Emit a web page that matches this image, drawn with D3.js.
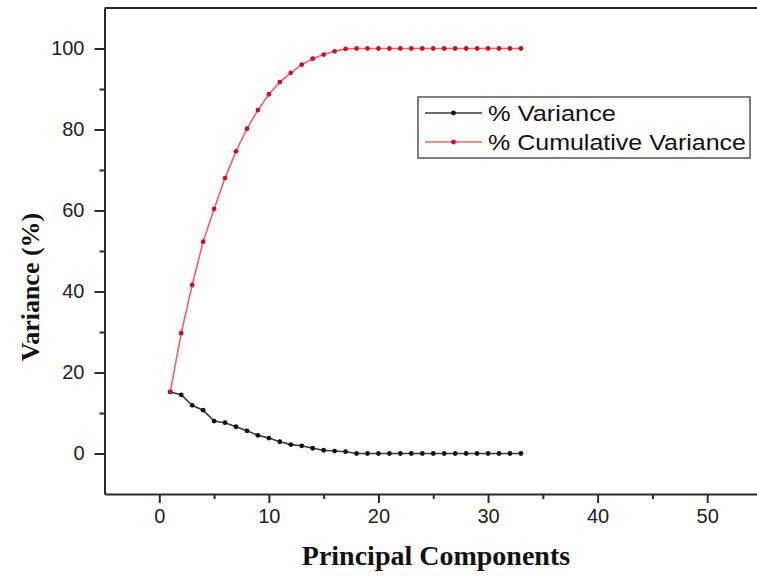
<!DOCTYPE html>
<html>
<head>
<meta charset="utf-8">
<script src="https://cdn.jsdelivr.net/npm/d3@7"></script>
<style>
  html, body { margin: 0; padding: 0; background: #fff; overflow: hidden; }
  svg { display: block; }
</style>
</head>
<body>
<svg id="chart" width="757" height="576"></svg>
<script>
// Scree plot: % variance and % cumulative variance per principal component
const components = d3.range(1, 34);
const variance = [15.2, 14.5, 11.9, 10.7, 8.0, 7.6, 6.6, 5.6, 4.5, 3.8, 2.9, 2.2, 1.9, 1.3, 0.8, 0.6, 0.45,
    0, 0, 0, 0, 0, 0, 0, 0, 0, 0, 0, 0, 0, 0, 0, 0];
const cumulative = [15.2, 29.7, 41.6, 52.3, 60.4, 68.0, 74.6, 80.2, 84.8, 88.7, 91.7, 94.0, 96.0, 97.5, 98.5, 99.3, 99.9,
    100, 100, 100, 100, 100, 100, 100, 100, 100, 100, 100, 100, 100, 100, 100, 100];
const xMajorTicks = [0, 10, 20, 30, 40, 50];
const xMinorTicks = [5, 15, 25, 35, 45];
const yMajorTicks = [0, 20, 40, 60, 80, 100];
const yMinorTicks = [10, 30, 50, 70, 90];
const seriesNames = ['% Variance', '% Cumulative Variance'];

const svg = d3.select('#chart');
const axisColor = '#2b2b2b';

const x = d3.scaleLinear().domain([-5, 55]).range([104.5, 762]);
const y = d3.scaleLinear().domain([-10, 110]).range([494, 8]);

// Top frame line
svg.append('line').attr('x1', x(-5)).attr('x2', x(55)).attr('y1', y(110)).attr('y2', y(110))
    .attr('stroke', axisColor).attr('stroke-width', 2);

// X axis
const gx = svg.append('g').attr('transform', `translate(0,${y(-10)})`);
gx.call(d3.axisBottom(x).tickValues(xMajorTicks).tickSize(9).tickPadding(6).tickSizeOuter(0));
gx.append('g').call(d3.axisBottom(x).tickValues(xMinorTicks).tickSize(5).tickFormat('').tickSizeOuter(0))
    .select('.domain').remove();
gx.selectAll('.domain').attr('stroke', axisColor).attr('stroke-width', 2);
gx.selectAll('.tick line').attr('stroke', axisColor).attr('stroke-width', 2);
gx.selectAll('.tick text').attr('font-family', 'Liberation Sans, Arial, sans-serif')
    .attr('font-size', 20).attr('fill', '#222');

// Y axis
const gy = svg.append('g').attr('transform', `translate(${x(-5)},0)`);
gy.call(d3.axisLeft(y).tickValues(yMajorTicks).tickSize(10).tickPadding(10).tickSizeOuter(0));
gy.append('g').call(d3.axisLeft(y).tickValues(yMinorTicks).tickSize(5).tickFormat('').tickSizeOuter(0))
    .select('.domain').remove();
gy.selectAll('.domain').attr('stroke', axisColor).attr('stroke-width', 2);
gy.selectAll('.tick line').attr('stroke', axisColor).attr('stroke-width', 2);
gy.selectAll('.tick text').attr('font-family', 'Liberation Sans, Arial, sans-serif')
    .attr('font-size', 20).attr('fill', '#222');

// Axis titles
svg.append('text')
    .attr('x', 436).attr('y', 565)
    .attr('text-anchor', 'middle')
    .attr('font-family', 'Liberation Serif, Times New Roman, serif')
    .attr('font-weight', 700).attr('font-size', 28).attr('fill', '#111')
    .text('Principal Components');

svg.append('text')
    .attr('transform', 'translate(39,287) rotate(-90)')
    .attr('text-anchor', 'middle')
    .attr('font-family', 'Liberation Serif, Times New Roman, serif')
    .attr('font-weight', 700).attr('font-size', 26).attr('fill', '#111')
    .text('Variance (%)');

// Series
const series = [
    { name: seriesNames[0], values: variance, line: '#3a3a3a', dot: '#111', width: 128 },
    { name: seriesNames[1], values: cumulative, line: '#f0606a', dot: '#c8102e', width: 258 },
];

const line = d3.line().x((d, i) => x(components[i])).y(d => y(d));

for (const s of series) {
    svg.append('path')
        .datum(s.values)
        .attr('d', line)
        .attr('fill', 'none')
        .attr('stroke', s.line)
        .attr('stroke-width', 1.6);

    svg.append('g').selectAll('circle')
        .data(s.values)
        .join('circle')
        .attr('cx', (d, i) => x(components[i]))
        .attr('cy', d => y(d))
        .attr('r', 2.4)
        .attr('fill', s.dot);
}

// Legend (text is slightly stretched in the original)
const lg = svg.append('g').attr('transform', 'translate(418,97)');
lg.append('rect').attr('width', 332).attr('height', 61)
    .attr('fill', '#fff').attr('stroke', '#555').attr('stroke-width', 1.5);
series.forEach((s, i) => {
    const ly = 16 + i * 29;
    lg.append('line').attr('x1', 7).attr('x2', 64).attr('y1', ly).attr('y2', ly)
        .attr('stroke', s.line).attr('stroke-width', 1.6);
    lg.append('circle').attr('cx', 35.5).attr('cy', ly).attr('r', 2.4).attr('fill', s.dot);
    lg.append('text')
        .attr('x', 70).attr('y', ly)
        .attr('dy', '0.36em')
        .attr('font-family', 'Liberation Sans, Arial, sans-serif')
        .attr('font-size', 22).attr('fill', '#111')
        .attr('textLength', s.width).attr('lengthAdjust', 'spacingAndGlyphs')
        .text(s.name);
});
</script>
</body>
</html>
